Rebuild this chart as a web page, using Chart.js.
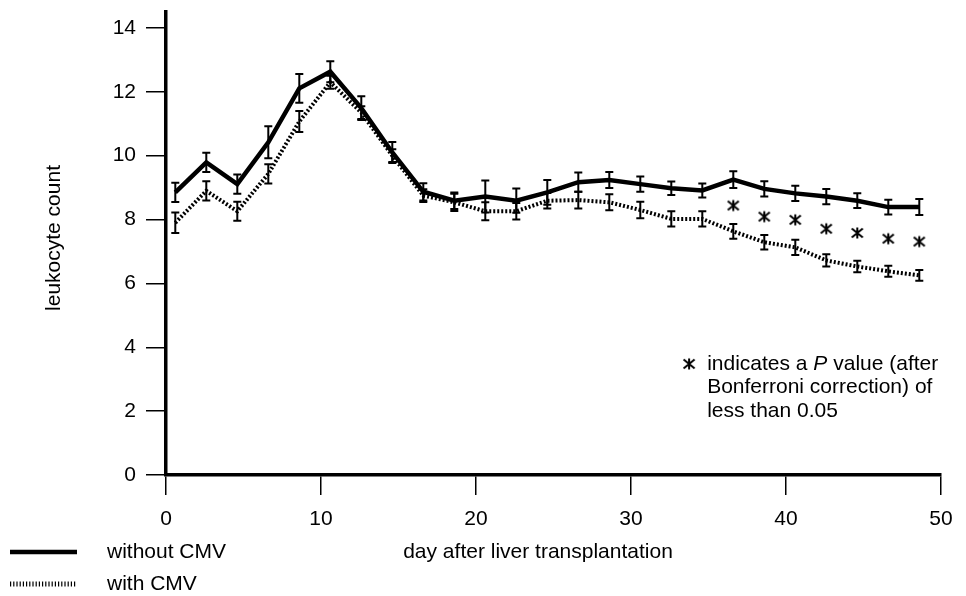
<!DOCTYPE html>
<html>
<head>
<meta charset="utf-8">
<script src="https://cdn.jsdelivr.net/npm/chart.js@4/dist/chart.umd.min.js"></script>
<style>
  html, body { margin: 0; padding: 0; background: #fff; }
  #wrap { width: 966px; height: 596px; }
</style>
</head>
<body>
<div id="wrap"><canvas id="myChart" width="966" height="596"></canvas></div>
<script>
// day after transplantation of each measurement
var days = [0.6, 2.6, 4.6, 6.6, 8.6, 10.6, 12.6, 14.6, 16.6, 18.6, 20.6, 22.6, 24.6,
            26.6, 28.6, 30.6, 32.6, 34.6, 36.6, 38.6, 40.6, 42.6, 44.6, 46.6, 48.6];
// leukocyte count, patients without CMV
var withoutCMV    = [8.85, 9.79, 9.11, 10.42, 12.11, 12.63, 11.49, 10.1, 8.87, 8.59, 8.72, 8.59, 8.85,
                     9.17, 9.24, 9.11, 8.98, 8.91, 9.25, 8.96, 8.82, 8.72, 8.59, 8.39, 8.39];
var withoutCMVErr = [0.3, 0.3, 0.3, 0.5, 0.45, 0.33, 0.37, 0.33, 0.27, 0.26, 0.5, 0.38, 0.39,
                     0.3, 0.25, 0.24, 0.21, 0.22, 0.26, 0.24, 0.24, 0.24, 0.23, 0.23, 0.25];
// leukocyte count, patients with CMV
var withCMV    = [7.9, 8.9, 8.26, 9.43, 11.07, 12.3, 11.35, 10.0, 8.75, 8.54, 8.26, 8.26, 8.59,
                  8.61, 8.54, 8.3, 8.02, 8.02, 7.63, 7.29, 7.13, 6.72, 6.53, 6.38, 6.25];
var withCMVErr = [0.32, 0.3, 0.3, 0.3, 0.33, 0.2, 0.2, 0.2, 0.2, 0.27, 0.28, 0.26, 0.24,
                  0.26, 0.25, 0.26, 0.24, 0.24, 0.23, 0.23, 0.24, 0.19, 0.18, 0.17, 0.17];
// significance markers
var starDays   = [36.6, 38.6, 40.6, 42.6, 44.6, 46.6, 48.6];
var starValues = [8.44, 8.09, 7.99, 7.71, 7.58, 7.40, 7.31];

var xTicks = [0, 10, 20, 30, 40, 50];
var yTicks = [0, 2, 4, 6, 8, 10, 12, 14];
var seriesNames = ["without CMV", "with CMV"];
var xTitle = "day after liver transplantation";
var yTitle = "leukocyte count";
var noteLines = [
  [["indicates a ", false], ["P", true], [" value (after", false]],
  [["Bonferroni correction) of", false]],
  [["less than 0.05", false]]
];

var FONT = '"Liberation Sans", Arial, sans-serif';
var FS = 21;

function pts(xs, ys) {
  return xs.map(function(x, i) { return { x: x, y: ys[i] }; });
}

function makeStar() {
  var c = document.createElement('canvas');
  c.width = 14; c.height = 14;
  var g = c.getContext('2d');
  g.strokeStyle = '#000';
  g.lineWidth = 2;
  g.beginPath();
  g.moveTo(7, 1.5); g.lineTo(7, 12.5);
  g.moveTo(1.5, 2.5); g.lineTo(12.5, 11.5);
  g.moveTo(12.5, 2.5); g.lineTo(1.5, 11.5);
  g.stroke();
  return c;
}
var starImg = makeStar();

var errorBars = {
  id: 'errorBars',
  afterDatasetsDraw: function(chart) {
    var ctx = chart.ctx, xs = chart.scales.x, ys = chart.scales.y;
    chart.data.datasets.forEach(function(ds) {
      if (!ds.errors) return;
      ctx.save();
      ctx.strokeStyle = '#000';
      ctx.lineWidth = 2;
      ds.data.forEach(function(p, j) {
        var px = xs.getPixelForValue(p.x);
        var hi = ys.getPixelForValue(p.y + ds.errors[j]);
        var lo = ys.getPixelForValue(p.y - ds.errors[j]);
        ctx.beginPath();
        ctx.moveTo(px, hi); ctx.lineTo(px, lo);
        ctx.moveTo(px - 4, hi); ctx.lineTo(px + 4, hi);
        ctx.moveTo(px - 4, lo); ctx.lineTo(px + 4, lo);
        ctx.stroke();
      });
      ctx.restore();
    });
  }
};

var extras = {
  id: 'extras',
  afterDraw: function(chart) {
    var ctx = chart.ctx, xs = chart.scales.x, ys = chart.scales.y;
    ctx.save();
    ctx.fillStyle = '#000';
    ctx.font = FS + 'px ' + FONT;
    ctx.textBaseline = 'middle';

    // axis titles
    ctx.textAlign = 'center';
    ctx.fillText(xTitle, 538, 552);
    ctx.save();
    ctx.translate(54, 238);
    ctx.rotate(-Math.PI / 2);
    ctx.fillText(yTitle, 0, 0);
    ctx.restore();

    // legend
    ctx.textAlign = 'left';
    var ds = chart.data.datasets;
    [0, 1].forEach(function(i) {
      var ly = 552 + i * 32;
      ctx.save();
      ctx.strokeStyle = '#000';
      ctx.lineWidth = i === 0 ? 4.5 : 5;
      ctx.setLineDash(i === 0 ? [] : [1.2, 2]);
      ctx.beginPath();
      ctx.moveTo(10, ly); ctx.lineTo(77, ly);
      ctx.stroke();
      ctx.restore();
      ctx.fillText(ds[i].label, 107, ly);
    });

    // significance note
    var nx = xs.getPixelForValue(33.75), ny = ys.getPixelForValue(3.48);
    ctx.drawImage(starImg, nx - 7, ny - 7);
    var tx = nx + 18;
    noteLines.forEach(function(line, k) {
      var cx = tx, cy = ny + k * 23.5;
      line.forEach(function(seg) {
        ctx.font = (seg[1] ? 'italic ' : '') + FS + 'px ' + FONT;
        ctx.fillText(seg[0], cx, cy);
        cx += ctx.measureText(seg[0]).width;
      });
    });
    ctx.restore();
  }
};

var ctx = document.getElementById('myChart');
var myChart = new Chart(ctx, {
  type: 'line',
  data: {
    datasets: [{
      label: seriesNames[0],
      data: pts(days, withoutCMV),
      errors: withoutCMVErr,
      borderColor: '#000',
      borderWidth: 4.5,
      pointRadius: 0,
      tension: 0
    }, {
      label: seriesNames[1],
      data: pts(days, withCMV),
      errors: withCMVErr,
      borderColor: '#000',
      borderWidth: 4,
      borderDash: [2, 2],
      borderCapStyle: 'butt',
      pointRadius: 0,
      tension: 0
    }, {
      label: 'significant',
      data: pts(starDays, starValues),
      showLine: false,
      pointStyle: starImg,
      pointRadius: 7
    }]
  },
  options: {
    responsive: false,
    devicePixelRatio: 1,
    animation: false,
    layout: { padding: { top: 12, right: 25, left: 0, bottom: 0 } },
    plugins: { legend: { display: false }, tooltip: { enabled: false } },
    scales: {
      x: {
        type: 'linear',
        min: 0, max: 50,
        afterBuildTicks: function(scale) { scale.ticks = xTicks.map(function(v) { return { value: v }; }); },
        afterFit: function(scale) { scale.height = 121; scale.paddingLeft = 0; scale.paddingRight = 0; },
        border: { display: true, color: '#000', width: 3.5 },
        grid: { drawOnChartArea: false, drawTicks: true, tickLength: 20, color: '#000', lineWidth: 1.5 },
        ticks: { color: '#000', padding: 12, maxRotation: 0, font: { family: FONT, size: FS } }
      },
      y: {
        min: 0, max: 14.5,
        afterBuildTicks: function(scale) { scale.ticks = yTicks.map(function(v) { return { value: v }; }); },
        afterFit: function(scale) { scale.width = 166; scale.paddingTop = 0; scale.paddingBottom = 0; },
        border: { display: true, color: '#000', width: 3.5 },
        grid: { drawOnChartArea: false, drawTicks: true, tickLength: 20, color: '#000', lineWidth: 1.5 },
        ticks: { color: '#000', padding: 10, font: { family: FONT, size: FS } }
      }
    }
  },
  plugins: [errorBars, extras]
});
</script>
</body>
</html>
